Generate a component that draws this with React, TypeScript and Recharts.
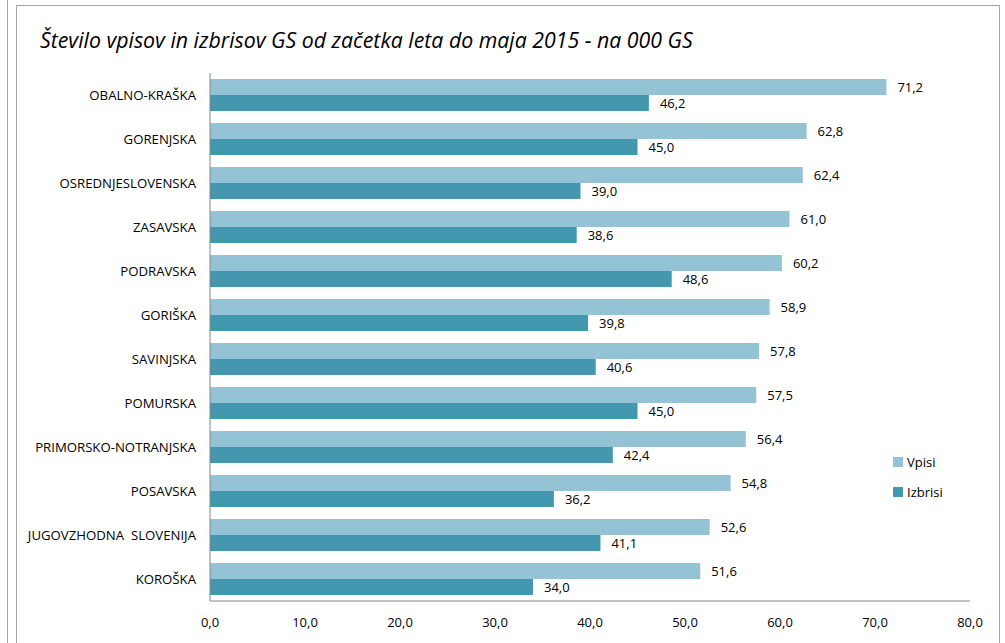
import React from 'react';
import { BarChart, Bar, XAxis, YAxis, LabelList } from 'recharts';

const regions = [
  'OBALNO-KRAŠKA',
  'GORENJSKA',
  'OSREDNJESLOVENSKA',
  'ZASAVSKA',
  'PODRAVSKA',
  'GORIŠKA',
  'SAVINJSKA',
  'POMURSKA',
  'PRIMORSKO-NOTRANJSKA',
  'POSAVSKA',
  'JUGOVZHODNA\u00a0 SLOVENIJA',
  'KOROŠKA',
];
const vpisi = [71.2, 62.8, 62.4, 61.0, 60.2, 58.9, 57.8, 57.5, 56.4, 54.8, 52.6, 51.6];
const izbrisi = [46.2, 45.0, 39.0, 38.6, 48.6, 39.8, 40.6, 45.0, 42.4, 36.2, 41.1, 34.0];
const xTicks = [0, 10, 20, 30, 40, 50, 60, 70, 80];

const data = regions.map((name, i) => ({ name, vpisi: vpisi[i], izbrisi: izbrisi[i] }));

const LIGHT = '#93C3D4';
const DARK = '#4398B0';
const FONT = "'Open Sans', 'Liberation Sans', sans-serif";
const fmt = (v: any) => Number(v).toFixed(1).replace('.', ',');

const legendItems = [
  { label: 'Vpisi', color: LIGHT },
  { label: 'Izbrisi', color: DARK },
];

const CategoryTick = (props: any) => {
  const { x, y, payload } = props;
  return (
    <text x={x - 6} y={y} dy={4.5} textAnchor="end" fill="#000" fontSize={13.2} fontFamily={FONT}>
      {payload.value}
    </text>
  );
};

const ValueTick = (props: any) => {
  const { x, y, payload } = props;
  return (
    <text x={x} y={y} dy={18} textAnchor="middle" fill="#000" fontSize={13} fontFamily={FONT}>
      {fmt(payload.value)}
    </text>
  );
};

export default function App() {
  return (
    <div style={{ position: 'absolute', left: 0, top: 0, width: 1005, height: 643, background: '#fff', overflow: 'hidden' }}>
      {/* frames */}
      <div style={{ position: 'absolute', left: 7, top: 0, width: 1, height: 643, background: '#a6a6a6' }} />
      <div style={{ position: 'absolute', left: 16, top: 5, width: 984, height: 660, border: '1px solid #a6a6a6', boxSizing: 'border-box' }} />
      <div
        style={{
          position: 'absolute',
          left: 40,
          top: 25,
          fontFamily: FONT,
          fontStyle: 'italic',
          fontSize: 21.3,
          color: '#000',
          whiteSpace: 'nowrap',
        }}
      >
        Število vpisov in izbrisov GS od začetka leta do maja 2015 - na 000 GS
      </div>
      <div style={{ position: 'absolute', left: 0, top: 0 }}>
        <BarChart
          width={1005}
          height={643}
          data={data}
          layout="vertical"
          margin={{ top: 73, right: 35, bottom: 12, left: 0 }}
          barSize={16}
          barGap={0}
        >
          <XAxis
            type="number"
            domain={[0, 80]}
            ticks={xTicks}
            interval={0}
            tick={<ValueTick />}
            tickLine={false}
            axisLine={{ stroke: '#868686' }}
            height={30}
          />
          <YAxis
            type="category"
            dataKey="name"
            width={210}
            tick={<CategoryTick />}
            tickLine={false}
            axisLine={{ stroke: '#868686' }}
            interval={0}
          />
          <Bar dataKey="vpisi" name="Vpisi" fill={LIGHT} isAnimationActive={false}>
            <LabelList dataKey="vpisi" position="right" offset={11} formatter={fmt} fill="#000" fontSize={13} fontFamily={FONT} />
          </Bar>
          <Bar dataKey="izbrisi" name="Izbrisi" fill={DARK} isAnimationActive={false}>
            <LabelList dataKey="izbrisi" position="right" offset={11} formatter={fmt} fill="#000" fontSize={13} fontFamily={FONT} />
          </Bar>
        </BarChart>
      </div>
      {/* legend */}
      <div style={{ position: 'absolute', left: 893, top: 447, fontFamily: FONT, fontSize: 13 }}>
        {legendItems.map((it) => (
          <div key={it.label} style={{ display: 'flex', alignItems: 'center', height: 30 }}>
            <div style={{ width: 10, height: 10, background: it.color, marginRight: 4 }} />
            <span>{it.label}</span>
          </div>
        ))}
      </div>
    </div>
  );
}
